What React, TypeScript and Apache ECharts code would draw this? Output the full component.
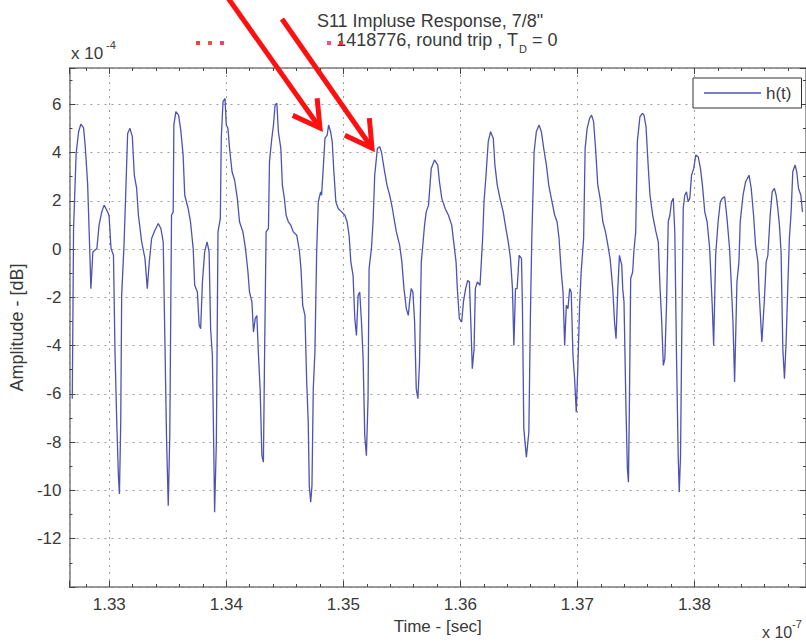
import React, { useEffect, useRef } from 'react';
import * as echarts from 'echarts';

// Time axis values (x 10^-7 s) and amplitude values (x 10^-4)
const times = [
  1.32684, 1.32695, 1.32717, 1.32738, 1.32757, 1.32780, 1.32794, 1.32815, 1.32832, 1.32843,
  1.32860, 1.32894, 1.32913, 1.32936, 1.32956, 1.32979, 1.32998, 1.33015, 1.33036, 1.33049,
  1.33064, 1.33078, 1.33087, 1.33098, 1.33106, 1.33126, 1.33143, 1.33157, 1.33177, 1.33197,
  1.33214, 1.33234, 1.33249, 1.33277, 1.33305, 1.33325, 1.33342, 1.33362, 1.33390, 1.33419,
  1.33441, 1.33461, 1.33475, 1.33489, 1.33504, 1.33517, 1.33532, 1.33546, 1.33552, 1.33569,
  1.33592, 1.33611, 1.33631, 1.33645, 1.33674, 1.33694, 1.33717, 1.33730, 1.33753, 1.33768,
  1.33781, 1.33796, 1.33815, 1.33836, 1.33853, 1.33866, 1.33881, 1.33892, 1.33900, 1.33915,
  1.33929, 1.33949, 1.33957, 1.33972, 1.33989, 1.34000, 1.34014, 1.34028, 1.34049, 1.34071,
  1.34094, 1.34113, 1.34142, 1.34164, 1.34185, 1.34198,
  1.34219, 1.34232, 1.34247, 1.34261, 1.34275, 1.34289, 1.34304, 1.34317, 1.34326, 1.34340,
  1.34360, 1.34369, 1.34380, 1.34389, 1.34403, 1.34417, 1.34432, 1.34445, 1.34466, 1.34479,
  1.34496, 1.34511, 1.34530, 1.34551, 1.34573, 1.34602, 1.34624, 1.34638, 1.34653, 1.34672,
  1.34687, 1.34700, 1.34709, 1.34721, 1.34732, 1.34743, 1.34757, 1.34772, 1.34786, 1.34806,
  1.34814, 1.34828, 1.34843, 1.34862, 1.34874, 1.34891, 1.34905, 1.34919, 1.34936, 1.34956,
  1.34985, 1.35013, 1.35032, 1.35049, 1.35064, 1.35083, 1.35098, 1.35112, 1.35126, 1.35140,
  1.35155, 1.35169, 1.35183, 1.35197, 1.35211, 1.35220, 1.35240, 1.35254, 1.35268, 1.35291,
  1.35311, 1.35325, 1.35353, 1.35373, 1.35396, 1.35419, 1.35438, 1.35453, 1.35481, 1.35500,
  1.35518, 1.35538, 1.35555, 1.35566, 1.35580, 1.35594, 1.35609, 1.35623, 1.35637, 1.35651,
  1.35666, 1.35679, 1.35694, 1.35708, 1.35728, 1.35751, 1.35779, 1.35807,
  1.35821, 1.35841, 1.35870, 1.35898, 1.35926, 1.35946, 1.35963, 1.35974, 1.35991, 1.36011,
  1.36026, 1.36045, 1.36062, 1.36077, 1.36088, 1.36102, 1.36117, 1.36128, 1.36145, 1.36168,
  1.36190, 1.36202, 1.36219, 1.36238, 1.36258, 1.36281, 1.36295, 1.36315, 1.36338, 1.36366,
  1.36389, 1.36409, 1.36428, 1.36445, 1.36457, 1.36471, 1.36485, 1.36502, 1.36522, 1.36530,
  1.36542, 1.36564, 1.36585, 1.36598, 1.36610, 1.36630, 1.36649, 1.36672, 1.36692, 1.36712,
  1.36735, 1.36755, 1.36777, 1.36806, 1.36826, 1.36843, 1.36862, 1.36877, 1.36891, 1.36905,
  1.36919, 1.36934, 1.36947, 1.36962, 1.36976, 1.36990, 1.37004, 1.37019, 1.37032, 1.37053,
  1.37066, 1.37083, 1.37104, 1.37121, 1.37138, 1.37155, 1.37174, 1.37194, 1.37217, 1.37240,
  1.37260, 1.37279, 1.37302, 1.37317, 1.37330, 1.37345,
  1.37359, 1.37379, 1.37387, 1.37398, 1.37415, 1.37427, 1.37436, 1.37444, 1.37455, 1.37472,
  1.37483, 1.37498, 1.37512, 1.37534, 1.37555, 1.37569, 1.37586, 1.37606, 1.37620, 1.37643,
  1.37671, 1.37691, 1.37705, 1.37719, 1.37734, 1.37747, 1.37762, 1.37776, 1.37790, 1.37804,
  1.37819, 1.37832, 1.37847, 1.37861, 1.37870, 1.37881, 1.37889, 1.37904, 1.37917, 1.37932,
  1.37946, 1.37960, 1.37975, 1.37994, 1.38011, 1.38032, 1.38051, 1.38068, 1.38088, 1.38108,
  1.38130, 1.38153, 1.38164, 1.38181, 1.38202, 1.38221, 1.38238, 1.38258, 1.38278, 1.38300,
  1.38315, 1.38329, 1.38343, 1.38363, 1.38380, 1.38391, 1.38415, 1.38437, 1.38466, 1.38485,
  1.38505, 1.38522, 1.38542, 1.38551, 1.38576, 1.38598, 1.38613, 1.38627, 1.38647, 1.38664,
  1.38683, 1.38698, 1.38712, 1.38726, 1.38740, 1.38755, 1.38769, 1.38783, 1.38797, 1.38811,
  1.38826, 1.38840, 1.38860, 1.38874, 1.38889, 1.38909, 1.38923,
];

const amps = [
  -6.20, 0.85, 3.96, 4.86, 5.17, 5.03, 4.31, 2.72, 0.16, -1.64,
  -0.12, 0.02, 0.99, 1.54, 1.82, 1.61, 1.40, 0.02, -0.26, -4.27,
  -7.17, -9.39, -10.15, -7.17, -1.92, 0.16, 2.65, 4.79, 5.00, 4.66,
  3.06, 2.51, 1.40, 0.30, -0.39, -1.64, -0.53, 0.44, 0.78, 1.06,
  0.85, 0.30, -3.71, -7.73, -10.63, -7.73, 1.40, 1.54, 5.14, 5.69,
  5.55, 4.93, 3.89, 2.23, 1.68, 1.13, 0.02, -1.50, -1.78, -3.16,
  -3.30, -1.36, -0.12, 0.30, -0.12, -3.30, -4.41, -8.00, -10.90, -8.00,
  0.71, 1.27, 4.59, 6.11, 6.24, 5.14, 5.00, 4.17, 3.20, 2.86,
  2.10, 1.13, 0.71, 0.02, -0.95, -1.78,
  -2.19, -3.44, -2.88, -2.75, -4.41, -5.79, -8.56, -8.83, -4.82, 0.71,
  0.85, 3.62, 4.17, 4.59, 5.14, 5.97, 6.04, 4.86, 4.17, 2.65,
  2.10, 1.40, 1.13, 0.99, 0.71, 0.57, -0.05, -0.81, -2.33, -2.75,
  -5.51, -7.17, -9.80, -10.49, -9.80, -5.79, -4.27, -0.12, 1.96, 2.37,
  2.23, 3.34, 4.59, 4.72, 5.14, 4.86, 4.45, 3.20, 1.96, 1.68,
  1.54, 1.40, 1.13, 0.57, -0.53, -1.09, -2.88, -3.58, -1.92, -1.78,
  -3.02, -4.54, -7.73, -8.56, -6.20, -0.81, 0.02, 1.13, 3.06, 4.17,
  4.24, 4.03, 3.20, 2.65, 2.23, 1.68, 1.13, 0.71, 0.16, -0.53,
  -1.64, -2.47, -2.75, -2.19, -1.64, -1.78, -3.02, -5.79, -6.20, -4.68,
  -0.53, 0.16, 0.99, 1.54, 1.82, 3.34, 3.69, 3.48,
  2.79, 2.10, 1.68, 1.40, 0.99, 0.16, -0.53, -1.64, -2.88, -3.02,
  -2.19, -1.64, -1.30, -1.36, -2.88, -4.96, -4.13, -1.64, -1.36, -1.50,
  0.44, 1.96, 3.06, 4.45, 4.86, 4.59, 3.48, 2.65, 2.10, 1.54,
  0.85, 0.30, -0.39, -1.64, -3.99, -1.64, -1.64, -0.26, -0.39, -2.33,
  -7.45, -8.62, -7.59, -2.88, 0.44, 4.03, 4.86, 5.14, 4.86, 4.17,
  3.48, 2.65, 2.10, 1.40, 1.13, 0.44, -0.95, -1.78, -3.99, -2.33,
  -2.47, -1.64, -1.78, -4.41, -5.37, -6.76, -4.82, -2.33, -0.95, 0.44,
  4.17, 5.00, 5.41, 5.55, 5.28, 4.17, 2.65, 2.10, 1.13, 0.71,
  0.16, -0.39, -1.64, -3.02, -3.71, -1.64,
  -0.26, -0.67, -1.64, -2.19, -6.62, -9.11, -9.66, -6.48, -1.22, -0.95,
  -0.05, 0.71, 4.45, 5.48, 5.62, 5.55, 5.07, 3.34, 2.23, 1.40,
  0.71, 0.30, -1.50, -2.88, -4.82, -4.54, -2.19, 1.13, 1.40, 1.96,
  2.10, 0.71, -4.54, -8.56, -10.07, -8.56, -4.68, 1.68, 2.23, 2.37,
  1.96, 2.10, 3.06, 3.34, 3.89, 3.82, 3.34, 2.65, 1.54, 1.13,
  0.02, -2.47, -3.99, -0.26, 1.13, 1.96, 2.10, 2.17, 1.27, 0.02,
  -1.50, -3.02, -5.51, -1.36, -0.53, 1.13, 2.23, 2.79, 3.06, 2.51,
  1.40, 0.16, -0.53, -1.64, -3.85, -2.05, -0.53, -0.26, 1.40, 2.37,
  2.51, 2.23, 1.68, 0.99, -0.12, -4.13, -5.37, -3.85, -1.64, 0.44,
  1.54, 3.20, 3.48, 3.20, 2.51, 2.23, 1.54,
];

const X_MIN = 1.3266;
const X_MAX = 1.38953;
const Y_MIN = -14;
const Y_MAX = 7.5;

const FONT = '"Liberation Sans", Arial, Helvetica, sans-serif';
const TXT = '#3a3a3a';
const LINE = '#4d52b3';

function fmtX(v: number) {
  const k = v * 100;
  return Math.abs(k - Math.round(k)) < 1e-6 ? v.toFixed(2) : '';
}

export default function App() {
  const ref = useRef<HTMLDivElement>(null);

  useEffect(() => {
    const el = ref.current;
    if (!el) return;
    const chart = echarts.init(el, undefined, { renderer: 'svg' });

    const data = times.map((t, i) => [t, amps[i]]);
    const split = { show: true, lineStyle: { type: [2, 5], color: '#9c9c9c', width: 1 } };
    const axLine = { show: true, onZero: false, lineStyle: { color: '#7a7a7a', width: 1.5 } };
    const tick = { show: true, inside: true, length: 6, lineStyle: { color: '#444', width: 1 } };

    const arrow = (x0: number, y0: number, x1: number, y1: number) => {
      const ang = Math.atan2(y1 - y0, x1 - x0) + Math.PI;
      const L = 30;
      const w1 = [x1 + L * Math.cos(ang - 0.52), y1 + L * Math.sin(ang - 0.52)];
      const w2 = [x1 + L * Math.cos(ang + 0.52), y1 + L * Math.sin(ang + 0.52)];
      return [
        { type: 'line', z: 200, shape: { x1: x0, y1: y0, x2: x1, y2: y1 }, style: { stroke: '#ff1010', lineWidth: 5 } },
        { type: 'polyline', z: 200, shape: { points: [w1, [x1, y1], w2] }, style: { stroke: '#ff1010', lineWidth: 5, fill: null, lineJoin: 'miter' } },
      ];
    };

    const txt = (text: string, x: number, y: number, size: number, align: string) => ({
      type: 'text',
      z: 150,
      x,
      y,
      style: {
        text,
        fill: TXT,
        font: `${size}px ${FONT}`,
        fontSize: size,
        fontFamily: FONT,
        align,
        textAlign: align,
        verticalAlign: 'middle',
        textVerticalAlign: 'middle',
      },
    });

    const dot = (x: number, y: number, c: string) => ({
      type: 'rect', z: 150, shape: { x: x - 2, y: y - 2, width: 4, height: 4 }, style: { fill: c },
    });

    const option: any = {
      animation: false,
      backgroundColor: '#ffffff',
      textStyle: { fontFamily: FONT },
      grid: { left: 69, top: 68, right: -2, bottom: 57, containLabel: false },
      legend: {
        data: [{ name: 'h(t)', icon: 'rect', itemStyle: { color: LINE } }],
        left: 693,
        top: 78,
        orient: 'horizontal',
        backgroundColor: '#ffffff',
        borderColor: '#333',
        borderWidth: 1,
        borderRadius: 0,
        padding: [5, 10, 5, 11],
        itemWidth: 57,
        itemHeight: 1.5,
        itemGap: 0,
        textStyle: { fontSize: 17, color: TXT, fontFamily: FONT, lineHeight: 20 },
      },
      xAxis: [
        {
          type: 'value',
          position: 'bottom',
          min: X_MIN,
          max: X_MAX,
          splitNumber: 6,
          axisLine: axLine,
          axisTick: tick,
          minorTick: { show: true, splitNumber: 5, length: 3, lineStyle: { color: '#444', width: 1 } },
          splitLine: split,
          axisLabel: {
            show: true,
            showMinLabel: false,
            showMaxLabel: false,
            formatter: fmtX,
            fontSize: 17,
            color: TXT,
            fontFamily: FONT,
            margin: 9,
          },
          name: 'Time - [sec]',
          nameLocation: 'middle',
          nameGap: 31,
          nameTextStyle: { fontSize: 17, color: TXT, fontFamily: FONT },
        },
        {
          type: 'value',
          position: 'top',
          min: X_MIN,
          max: X_MAX,
          splitNumber: 6,
          axisLine: axLine,
          axisTick: tick,
          minorTick: { show: true, splitNumber: 5, length: 3, lineStyle: { color: '#444', width: 1 } },
          splitLine: { show: false },
          axisLabel: { show: false },
        },
      ],
      yAxis: [
        {
          type: 'value',
          position: 'left',
          min: Y_MIN,
          max: Y_MAX,
          interval: 2,
          axisLine: axLine,
          axisTick: tick,
          minorTick: { show: true, splitNumber: 2, length: 3, lineStyle: { color: '#444', width: 1 } },
          splitLine: split,
          axisLabel: {
            show: true,
            showMinLabel: false,
            showMaxLabel: false,
            fontSize: 17,
            color: TXT,
            fontFamily: FONT,
            margin: 8,
          },
          name: 'Amplitude - [dB]',
          nameLocation: 'middle',
          nameGap: 38,
          nameTextStyle: { fontSize: 18, color: TXT, fontFamily: FONT },
        },
        {
          type: 'value',
          position: 'right',
          min: Y_MIN,
          max: Y_MAX,
          interval: 2,
          axisLine: axLine,
          axisTick: tick,
          minorTick: { show: true, splitNumber: 2, length: 3, lineStyle: { color: '#444', width: 1 } },
          splitLine: { show: false },
          axisLabel: { show: false },
        },
      ],
      series: [
        {
          name: 'h(t)',
          type: 'line',
          xAxisIndex: 0,
          yAxisIndex: 0,
          data,
          symbol: 'none',
          showSymbol: false,
          clip: true,
          z: 3,
          lineStyle: { color: LINE, width: 1.3 },
          itemStyle: { color: LINE },
        },
      ],
      graphic: [
        txt('S11 Impluse Response, 7/8"', 430, 21, 18, 'center'),
        txt('1418776, round trip , T', 518, 40, 18, 'right'),
        txt('D', 519, 49, 11, 'left'),
        txt('= 0', 532, 40, 18, 'left'),
        txt('x 10', 71, 53, 17, 'left'),
        txt('-4', 106, 45, 11, 'left'),
        txt('x 10', 762, 632, 16, 'left'),
        txt('-7', 792, 624, 11, 'left'),
        dot(198, 43, '#ff3b3b'),
        dot(210, 43, '#ff4a4a'),
        dot(222, 43, '#ff3b6b'),
        dot(329, 43, '#ff4a8a'),
        dot(341, 43, '#ff2a2a'),
        ...arrow(228, -2, 320, 128),
        ...arrow(282, 19, 372, 148),
      ],
    };

    chart.setOption(option);
    return () => {
      chart.dispose();
    };
  }, []);

  return (
    <div
      ref={ref}
      style={{ position: 'fixed', left: 0, top: 0, width: 806, height: 644, background: '#fff' }}
    />
  );
}
